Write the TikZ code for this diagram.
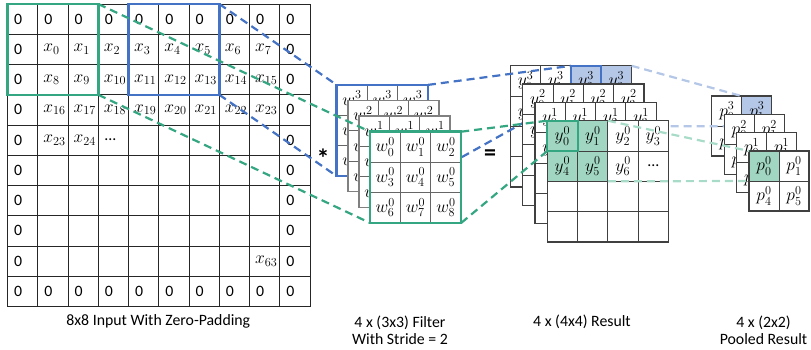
\RequirePackage{fix-cm}
\documentclass[tikz,border=0pt]{standalone}
\usepackage{fontspec}
\setmainfont{Carlito}
\usetikzlibrary{fit}
\definecolor{cblue}{RGB}{68,114,196}
\definecolor{cgreen}{RGB}{52,166,130}
\definecolor{lblue}{RGB}{180,199,231}
\definecolor{tealfill}{RGB}{160,214,194}
\definecolor{lgreen}{RGB}{168,220,200}
\newcommand\tfont{\fontsize{15.8}{17.4}\selectfont}
\newcommand\mfont{\fontsize{17.5}{19}\selectfont}
\tikzset{
  cellbase/.style={rectangle, inner sep=0pt, outer sep=0pt, minimum size=#1},
  incell/.style={cellbase=30.25pt, draw=black!85, line width=0.8pt},
  intext/.style={anchor=west, inner sep=0pt, font=\tfont},
  inmath/.style={anchor=west, inner sep=0pt, font=\mfont},
  wcell/.style={cellbase=30.4pt, draw=black!60, line width=0.9pt, font=\mfont},
  rcell/.style={cellbase=30.3pt, draw=black!75, line width=1pt, font=\mfont},
  pcell/.style={cellbase=30pt, draw=black!75, line width=1pt, font=\mfont},
  frame/.style={inner sep=0pt, outer sep=0pt, rectangle},
  boxg/.style={frame, draw=cgreen, line width=2.5pt},
  boxb/.style={frame, draw=cblue, line width=2.5pt},
  graybord/.style={frame, draw=black!50, line width=1.5pt},
  rbord/.style={frame, draw=black!75, line width=1.3pt},
  hl/.style={frame, line width=2pt},
  gdash/.style={draw=cgreen, line width=2.2pt, dash pattern=on 8pt off 5pt},
  bdash/.style={draw=cblue, line width=2.2pt, dash pattern=on 8pt off 5pt},
  lbdash/.style={draw=lblue, line width=2.2pt, dash pattern=on 8pt off 5pt},
  lgdash/.style={draw=lgreen, line width=2.2pt, dash pattern=on 8pt off 5pt},
  caption/.style={font=\tfont, align=center, inner sep=0pt}
}
\newcommand\wlayer[3]{%
  \fill[white] (#2,#3) rectangle ++(91.2,91.2);
  \foreach \i in {0,1,2}{\foreach \j in {0,1,2}{%
    \pgfmathtruncatemacro\idx{3*\i+\j}%
    \node[wcell] (w#1-\i-\j) at ({#2+15.2+30.4*\j},{#3+15.2+30.4*\i}) {$w_{\idx}^{#1}$};%
  }}}
\newcommand\rlayer[3]{%
  \foreach \i in {0,...,3}{\foreach \j in {0,...,3}{%
    \pgfmathtruncatemacro\idx{4*\i+\j}%
    \ifnum\idx<7 \def\lbl{$y_{\idx}^{#1}$}\else\ifnum\idx=7 \def\lbl{\tfont...}\else\def\lbl{}\fi\fi
    \node[rcell] (y#1-\i-\j) at ({#2+15.15+30.3*\j},{#3+15.15+30.3*\i}) {\lbl};%
  }}
  \node[fit=(y#1-0-0)(y#1-3-3), rbord] (y#1) {};}
\newcommand\player[3]{%
  \foreach \i in {0,1}{\foreach \j in {0,1}{%
    \pgfmathtruncatemacro\idx{4*\i+\j}%
    \node[pcell] (p#1-\i-\j) at ({#2+15+30*\j},{#3+15+30*\i}) {$p_{\idx}^{#1}$};%
  }}
  \node[fit=(p#1-0-0)(p#1-1-1), rbord] (p#1) {};}
\begin{document}
\begin{tikzpicture}[x=1pt,y=-1pt]
\useasboundingbox (0,0) rectangle (811,349);
% ---------- input grid ----------
\foreach \r in {0,...,9}{\foreach \c in {0,...,9}{%
  \node[incell] (in-\r-\c) at ({7.5+15.125+30.25*\c},{4+15.125+30.25*\r}) {};
  \pgfmathtruncatemacro\isedge{(\r==0)||(\r==9)||(\c==0)||(\c==9)}%
  \ifnum\isedge=1 \node[intext] (t-\r-\c) at ([xshift=6.5pt]in-\r-\c.west) {0};\fi
}}
\foreach \r in {1,2,3}{\foreach \c in {1,...,8}{%
  \pgfmathtruncatemacro\idx{(\r-1)*8+\c-1}%
  \node[inmath] (t-\r-\c) at ([xshift=5.5pt]in-\r-\c.west) {$x_{\idx}$};
}}
\node[inmath] (t-4-1) at ([xshift=5.5pt]in-4-1.west) {$x_{23}$};
\node[inmath] (t-4-2) at ([xshift=5.5pt]in-4-2.west) {$x_{24}$};
\node[intext] (t-4-3) at ([xshift=6pt]in-4-3.west) {...};
\node[inmath] (t-8-8) at ([xshift=5.5pt]in-8-8.west) {$x_{63}$};
\node[fit=(in-0-0)(in-2-2), boxg] (gbox) {};
\node[fit=(in-0-4)(in-2-6), boxb] (bbox) {};
% ---------- layer 3 ----------
\wlayer{3}{336.7}{84.9}
\node[fit=(w3-0-0)(w3-2-2), boxb] (w3) {};
\fill[white] (510.4,65.8) rectangle ++(121.2,121.2);
\fill[lblue] (571.0,65.8) rectangle ++(60.6,60.6);
\rlayer{3}{510.4}{65.8}
\node[fit=(y3-0-2), hl, draw=cblue] (y3hl) {};
\node[fit=(y3-0-2)(y3-1-3), frame] (y3pool) {};
\fill[white] (711.8,96.1) rectangle ++(60,60);
\fill[lblue] (741.8,96.1) rectangle ++(30,30);
\player{3}{711.8}{96.1}
\draw[bdash] (bbox.north east) -- (w3.north west);
\draw[bdash] (bbox.south east) -- (w3.south west);
\draw[bdash] (w3.north east) -- (y3-0-2.north west);
\draw[bdash] (w3.south east) -- (y3-0-2.south west);
\draw[lbdash] (y3pool.north east) -- (p3-0-1.north west);
\draw[lbdash] (y3pool.south east) -- (p3-0-1.south west);
% ---------- layer 2 ----------
\wlayer{2}{347.8}{100.5}
\node[fit=(w2-0-0)(w2-2-2), graybord] (w2) {};
\fill[white] (522.7,84.1) rectangle ++(121.2,121.2);
\rlayer{2}{522.7}{84.1}
\fill[white] (724.2,114.4) rectangle ++(60,60);
\player{2}{724.2}{114.4}
% ---------- layer 1 ----------
\wlayer{1}{358.9}{116.1}
\node[fit=(w1-0-0)(w1-2-2), graybord] (w1) {};
\fill[white] (535.0,102.4) rectangle ++(121.2,121.2);
\rlayer{1}{535.0}{102.4}
\fill[white] (736.6,132.7) rectangle ++(60,60);
\player{1}{736.6}{132.7}
% ---------- layer 0 ----------
\wlayer{0}{370}{131.7}
\node[fit=(w0-0-0)(w0-2-2), boxg] (w0) {};
\fill[white] (547.3,120.7) rectangle ++(121.2,121.2);
\fill[tealfill] (547.3,120.7) rectangle ++(60.6,60.6);
\rlayer{0}{547.3}{120.7}
\node[fit=(y0-0-0), hl, draw=cgreen] (y0hl) {};
\node[fit=(y0-0-0)(y0-1-1), frame] (y0pool) {};
\fill[white] (749,151) rectangle ++(60,60);
\fill[tealfill] (749,151) rectangle ++(30,30);
\player{0}{749}{151}
% ---------- green connectors ----------
\draw[gdash] (gbox.north east) -- (w0.north west);
\draw[gdash] (gbox.south east) -- (w0.south west);
\draw[gdash] (w0.north east) -- (y0-0-0.north west);
\draw[gdash] (w0.south east) -- (y0-0-0.south west);
\draw[lgdash] (y0pool.north east) -- (p0-0-0.north west);
\draw[lgdash] (y0pool.south east) -- (p0-0-0.south west);
% ---------- operators ----------
\node[font=\fontsize{26}{26}\selectfont\bfseries, inner sep=0pt] (star) at (323,158) {*};
\node[font=\fontsize{24}{24}\selectfont\bfseries, inner sep=0pt] (eq) at (490,155) {=};
% ---------- captions ----------
\node[caption] (cap1) at (158.3,321.5) {8x8 Input With Zero-Padding};
\node[caption] (cap2) at (400,330.5) {4 x (3x3) Filter\\With Stride = 2};
\node[caption] (cap3) at (582,321.5) {4 x (4x4) Result};
\node[caption] (cap4) at (763.5,330.5) {4 x (2x2)\\Pooled Result};
\end{tikzpicture}
\end{document}
